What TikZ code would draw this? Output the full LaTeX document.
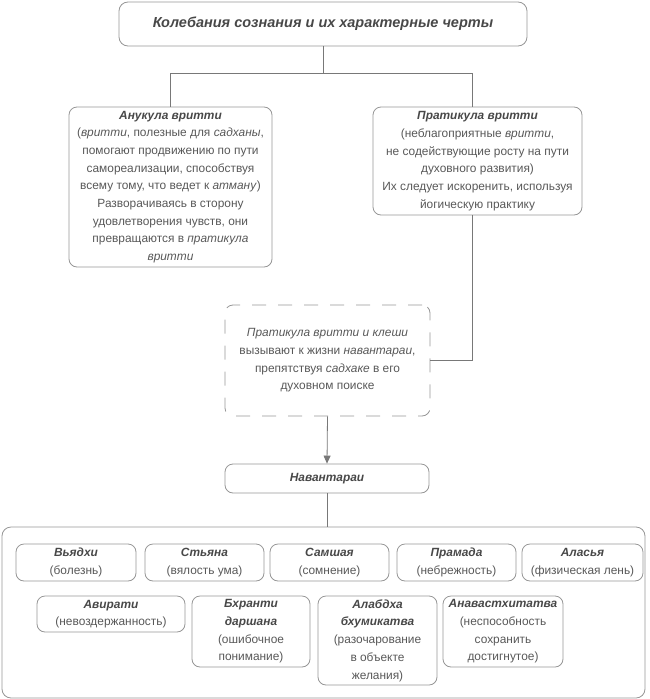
\documentclass[tikz,border=0pt]{standalone}
\usepackage{fontspec}
\setmainfont{Liberation Sans}
\usepackage{xcolor}
\usepackage{tikz}
\usetikzlibrary{arrows.meta}
\definecolor{figline}{RGB}{120,120,120}
\definecolor{figframe}{RGB}{150,150,150}
\definecolor{figtext}{RGB}{88,88,88}
\definecolor{figtitle}{RGB}{72,72,72}
\newcommand{\hd}[1]{\textcolor{figtitle}{\textbf{\textit{#1}}}}
\tikzstyle{titlebox} = [rectangle, rounded corners=9pt,
draw=figframe, line width=0.8pt, text=figtitle,
font=\fontsize{14.5}{17}\selectfont\bfseries\itshape]
\tikzstyle{infobox} = [rectangle, rounded corners=8pt,
draw=figframe, line width=0.8pt, inner sep=0pt,
align=center, text=figtext, font=\fontsize{11.9}{17.7}\selectfont]
\tikzstyle{dashbox} = [infobox, dash pattern=on 14pt off 12pt]
\tikzstyle{groupbox} = [rectangle, rounded corners=9pt,
draw=figframe, line width=0.8pt, inner sep=0pt]
\tikzstyle{link} = [draw=figline, line width=0.8pt]
\tikzstyle{arrow} = [link, -{Triangle[length=8pt, width=7pt]}]

\begin{document}
\begin{tikzpicture}[x=1pt, y=-1pt]
    \useasboundingbox (0,0) rectangle (650,699);
    \node (title) [titlebox, minimum width=408pt, minimum height=44pt]
        at (323,24) {Колебания сознания и их характерные черты};
    \node (anukula) [infobox, minimum width=203pt, minimum height=160pt]
        at (170.5,187) {\hd{Анукула вритти}\\
        (\textit{вритти}, полезные для \textit{садханы},\\
        помогают продвижению по пути\\
        самореализации, способствуя\\
        всему тому, что ведет к \textit{атману})\\
        Разворачиваясь в сторону\\
        удовлетворения чувств, они\\
        превращаются в \textit{пратикула}\\
        \textit{вритти}};
    \node (pratikula) [infobox, minimum width=209pt, minimum height=108pt]
        at (477.5,161) {\hd{Пратикула вритти}\\
        (неблагоприятные \textit{вритти},\\
        не содействующие росту на пути\\
        духовного развития)\\
        Их следует искоренить, используя\\
        йогическую практику};
    \node (kleshi) [dashbox, minimum width=205pt, minimum height=111pt]
        at (327.5,360.5) {\textit{Пратикула вритти и клеши}\\
        вызывают к жизни \textit{навантараи},\\
        препятствуя \textit{садхаке} в его\\
        духовном поиске};
    \node (navantarai) [infobox, minimum width=204pt, minimum height=29pt]
        at (327,478.5) {\hd{Навантараи}};
    \node (group) [groupbox, minimum width=643pt, minimum height=171pt]
        at (323.5,612.5) {};

    % first row
    \node (vyadhi) [infobox, minimum width=120pt, minimum height=37pt]
        at (76,562.5) {\hd{Вьядхи}\\(болезнь)};
    \node (styana) [infobox, minimum width=119pt, minimum height=37pt]
        at (204.5,562.5) {\hd{Стьяна}\\(вялость ума)};
    \node (samshaya) [infobox, minimum width=119pt, minimum height=37pt]
        at (329.5,562.5) {\hd{Самшая}\\(сомнение)};
    \node (pramada) [infobox, minimum width=119pt, minimum height=37pt]
        at (456.5,562.5) {\hd{Прамада}\\(небрежность)};
    \node (alasya) [infobox, minimum width=121pt, minimum height=37pt]
        at (582.5,562.5) {\hd{Аласья}\\(физическая лень)};

    % second row
    \node (avirati) [infobox, minimum width=148pt, minimum height=36pt]
        at (111,614) {\hd{Авирати}\\(невоздержанность)};
    \node (bhranti) [infobox, minimum width=118pt, minimum height=71pt]
        at (251,631.5) {\hd{Бхранти}\\\hd{даршана}\\(ошибочное\\понимание)};
    \node (alabdha) [infobox, minimum width=119pt, minimum height=89pt]
        at (377.5,640.5) {\hd{Алабдха}\\\hd{бхумикатва}\\(разочарование\\в объекте\\желания)};
    \node (anava) [infobox, minimum width=120pt, minimum height=71pt]
        at (503,631.5) {\hd{Анавастхитатва}\\(неспособность\\сохранить\\достигнутое)};

    \coordinate (split) at ([yshift=-27pt]title.south);
    \draw[link] (title.south) -- (split);
    \draw[link] (split) -| (anukula.north);
    \draw[link] (split) -| ([xshift=-5pt]pratikula.north);
    \draw[link] ([xshift=-5pt]pratikula.south) |- (kleshi.east);
    \draw[arrow] (kleshi.south) -- (navantarai.north);
    \draw[link] (navantarai.south) -- (navantarai.south |- group.north);
\end{tikzpicture}
\end{document}
